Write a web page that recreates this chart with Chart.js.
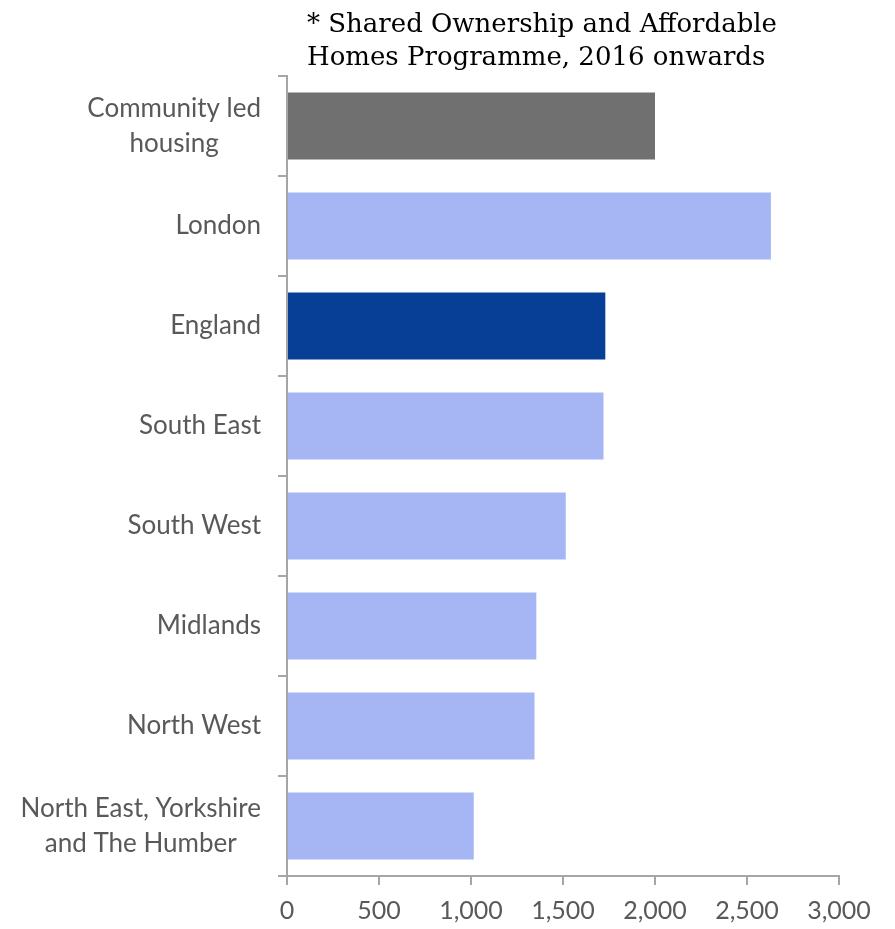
<!DOCTYPE html>
<html>
<head>
<meta charset="utf-8">
<title>Shared Ownership and Affordable Homes Programme</title>
<script src="https://cdn.jsdelivr.net/npm/chart.js@4/dist/chart.umd.min.js"></script>
<style>
    body { margin: 0; background: #fff; }
    #wrap { position: relative; width: 895px; height: 929px; }
    #note {
        position: absolute;
        left: 307px;
        top: 7px;
        font-family: "DejaVu Serif", serif;
        font-size: 26px;
        line-height: 33px;
        color: #000;
    }
</style>
</head>
<body>
<div id="wrap">
    <canvas id="myChart" width="895" height="929"></canvas>
    <div id="note">* Shared Ownership and Affordable<br>Homes Programme, 2016 onwards</div>
</div>
<script>
// Catégories (de haut en bas) et valeurs
const regions = [
    ['Community led', 'housing'],
    'London',
    'England',
    'South East',
    'South West',
    'Midlands',
    'North West',
    ['North East, Yorkshire', 'and The Humber']
];
const homes = [2000, 2630, 1730, 1720, 1515, 1355, 1345, 1015];

// Graduations de l'axe horizontal
const xMin = 0;
const xMax = 3000;
const xStep = 500;

// Couleurs : gris pour le logement communautaire, bleu foncé pour l'Angleterre
const colours = regions.map((r) => {
    if (Array.isArray(r)) {
        return r[0] === 'Community led' ? '#707070' : '#a6b5f3';
    }
    return r === 'England' ? '#073f97' : '#a6b5f3';
});

const axisGrey = '#a6a6a6';
const textGrey = '#595959';
const labelFont = '26px Lato';
const labelLineHeight = 35;

// Les libellés de l'axe vertical : bloc aligné à droite, lignes centrées entre elles
const centredLabels = {
    id: 'centredLabels',
    afterDraw(chart) {
        const scale = chart.scales.y;
        const c = chart.ctx;
        const right = scale.right - 9 - 17;
        c.save();
        c.font = labelFont;
        c.fillStyle = textGrey;
        c.textAlign = 'center';
        c.textBaseline = 'middle';
        regions.forEach((label, i) => {
            const lines = Array.isArray(label) ? label : [label];
            const width = Math.max(...lines.map((l) => c.measureText(l).width));
            const x = right - width / 2;
            const y0 = scale.getPixelForTick(i) - (lines.length - 1) * labelLineHeight / 2;
            lines.forEach((l, j) => c.fillText(l, x, y0 + j * labelLineHeight));
        });
        c.restore();
    }
};

const ctx = document.getElementById('myChart').getContext('2d');

const myChart = new Chart(ctx, {
    type: 'bar',
    data: {
        labels: regions,
        datasets: [{
            data: homes,
            backgroundColor: colours,
            borderWidth: 0,
            barPercentage: 0.67,
            categoryPercentage: 1
        }]
    },
    options: {
        indexAxis: 'y',
        responsive: false,
        animation: false,
        devicePixelRatio: 1,
        layout: {
            padding: { top: 76, right: 56, bottom: 0, left: 0 }
        },
        plugins: {
            legend: { display: false },
            tooltip: { enabled: false }
        },
        scales: {
            x: {
                min: xMin,
                max: xMax,
                afterFit: (scale) => { scale.height = 53; },
                ticks: {
                    stepSize: xStep,
                    padding: 11,
                    color: textGrey,
                    font: { family: 'Lato', size: 25 },
                    callback: (value) => value.toLocaleString('en-GB')
                },
                grid: {
                    drawOnChartArea: false,
                    tickLength: 9,
                    color: axisGrey,
                    lineWidth: 2
                },
                border: { color: axisGrey, width: 2 }
            },
            y: {
                afterFit: (scale) => { scale.width = 287; },
                ticks: { display: false },
                grid: {
                    drawOnChartArea: false,
                    offset: true,
                    tickLength: 9,
                    color: axisGrey,
                    lineWidth: 2
                },
                border: { color: axisGrey, width: 2 }
            }
        }
    },
    plugins: [centredLabels]
});
</script>
</body>
</html>
